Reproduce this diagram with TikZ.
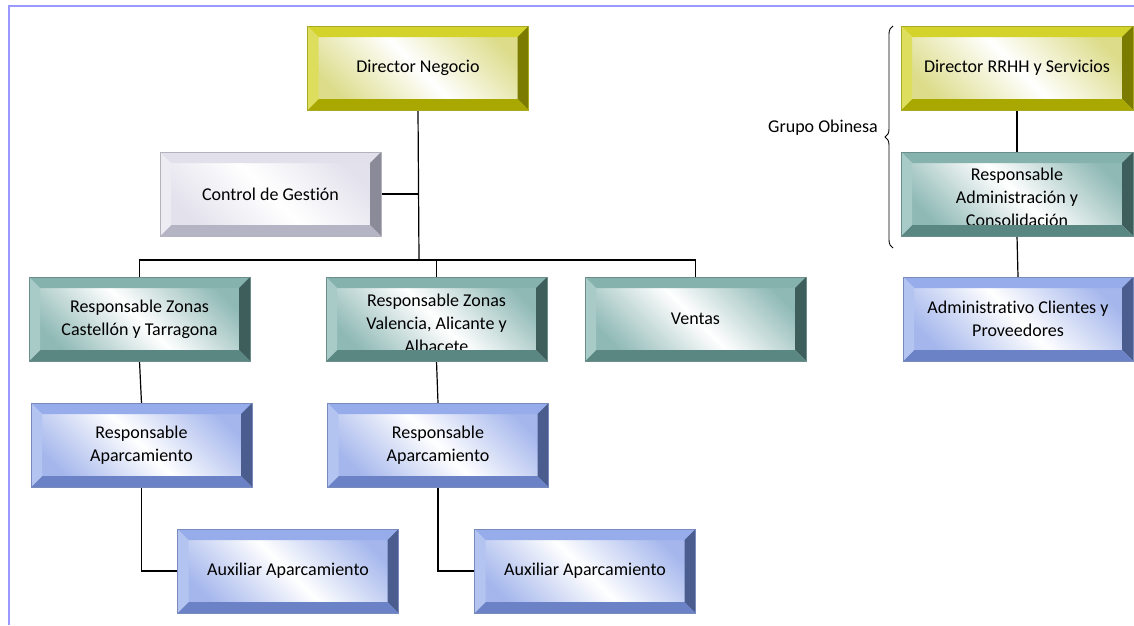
\documentclass[tikz,border=0pt]{standalone}
\usepackage{fontspec}
\setmainfont{Carlito}[Ligatures=NoCommon]
\usetikzlibrary{decorations.pathreplacing}

% bevel colours: top, left, right, bottom, inner tint
\definecolor{yeltop}{HTML}{D4D32C}
\definecolor{yelleft}{HTML}{DEDE5E}
\definecolor{yelright}{HTML}{7B7B00}
\definecolor{yelbot}{HTML}{A9A800}
\definecolor{yeltint}{HTML}{DCDC8A}
\definecolor{lavtop}{HTML}{E1E0EB}
\definecolor{lavleft}{HTML}{ECECF2}
\definecolor{lavright}{HTML}{8B8A99}
\definecolor{lavbot}{HTML}{B5B4C4}
\definecolor{lavtint}{HTML}{E2E1EC}
\definecolor{teatop}{HTML}{86B2AE}
\definecolor{tealeft}{HTML}{A9CBC8}
\definecolor{tearight}{HTML}{3E5E5B}
\definecolor{teabot}{HTML}{5B8783}
\definecolor{teatint}{HTML}{8FB9B5}
\definecolor{blutop}{HTML}{97ADEB}
\definecolor{bluleft}{HTML}{B4C4F1}
\definecolor{bluright}{HTML}{4B5D8F}
\definecolor{blubot}{HTML}{6B82C6}
\definecolor{blutint}{HTML}{A4B6EC}
\definecolor{framecol}{HTML}{9999FF}

\begin{document}
\begin{tikzpicture}[x=1pt,y=-1pt,
    bbox/.style={minimum width=221pt, minimum height=84pt, inner sep=0pt, outer sep=0pt,
      text width=205pt, align=flush center, font=\fontsize{18}{23}\selectfont,
      top color=#1tint, bottom color=#1tint, middle color=white, shading angle=-45},
    yel/.style={bbox=yel},
    lav/.style={bbox=lav},
    tea/.style={bbox=tea},
    blu/.style={bbox=blu},
    link/.style={line width=1.2pt}]
\useasboundingbox (0,0) rectangle (1134,625);
\draw[framecol, line width=2pt] (8.5,625) -- (8.5,5.5) -- (1134,5.5);

% boxes
\node[yel] (dn) at (418,68) {Director Negocio};
\node[lav] (cg) at (270.5,194) {Control de Gestión};
\node[tea] (zc) at (139.5,319) {Responsable Zonas\\Castellón y Tarragona};
\node[tea] (zv) at (436.5,319) {\rule{0pt}{21.5pt}Responsable Zonas\\Valencia, Alicante y\\Albacete};
\node[tea] (ve) at (695.5,319) {Ventas};
\node[blu] (ap1) at (141.5,445) {Responsable\\Aparcamiento};
\node[blu] (ap2) at (438,445) {Responsable\\Aparcamiento};
\node[blu] (ax1) at (288,571) {Auxiliar Aparcamiento};
\node[blu] (ax2) at (585,571) {Auxiliar Aparcamiento};
\node[yel, minimum width=232pt] (dr) at (1017,68) {Director RRHH y Servicios};
\node[tea, minimum width=232pt] (ra) at (1017,194) {\rule{0pt}{19.5pt}Responsable\\Administración y\\Consolidación};
\node[blu, minimum width=230pt] (ac) at (1018,319) {Administrativo Clientes y\\Proveedores};
\node (go) at (823,128) {\fontsize{18}{22}\selectfont Grupo Obinesa};

% connectors
\coordinate (bar) at (419,260);
\draw[link] (dn.south) -- (bar);
\draw[link] (zc.north) |- (bar) -| (ve.north);
\draw[link] (bar) -| (zv.north);
\draw[link] (cg.east) -- (cg.east -| dn.south);
\draw[link] (zc.south) -- (ap1.north);
\draw[link] (ap1.south) |- (ax1.west);
\draw[link] (zv.south) -- (ap2.north);
\draw[link] (ap2.south) |- (ax2.west);
\draw[link] (dr.south) -- (ra.north);
\draw[link] (ra.south) -- (ac.north);

% brace for the group
\coordinate (bt) at (893,26);
\coordinate (bb) at (893,248);
\draw[line width=0.9pt, decorate, decoration={brace, amplitude=8pt}] (bb) -- (bt);

% bevels drawn over the boxes
\foreach \n/\kind in {dn/yel,cg/lav,zc/tea,zv/tea,ve/tea,ap1/blu,ap2/blu,ax1/blu,ax2/blu,dr/yel,ra/tea,ac/blu}{
  \fill[fill=\kind top] (\n.north west) -- (\n.north east) -- ([xshift=-11pt,yshift=-11pt]\n.north east) -- ([xshift=11pt,yshift=-11pt]\n.north west) -- cycle;
  \fill[fill=\kind right] (\n.north east) -- (\n.south east) -- ([xshift=-11pt,yshift=11pt]\n.south east) -- ([xshift=-11pt,yshift=-11pt]\n.north east) -- cycle;
  \fill[fill=\kind bot] (\n.south east) -- (\n.south west) -- ([xshift=11pt,yshift=11pt]\n.south west) -- ([xshift=-11pt,yshift=11pt]\n.south east) -- cycle;
  \fill[fill=\kind left] (\n.south west) -- (\n.north west) -- ([xshift=11pt,yshift=-11pt]\n.north west) -- ([xshift=11pt,yshift=11pt]\n.south west) -- cycle;
  \draw[\kind top!80!black, line width=0.6pt] (\n.north west) rectangle (\n.south east);
}
\end{tikzpicture}
\end{document}
